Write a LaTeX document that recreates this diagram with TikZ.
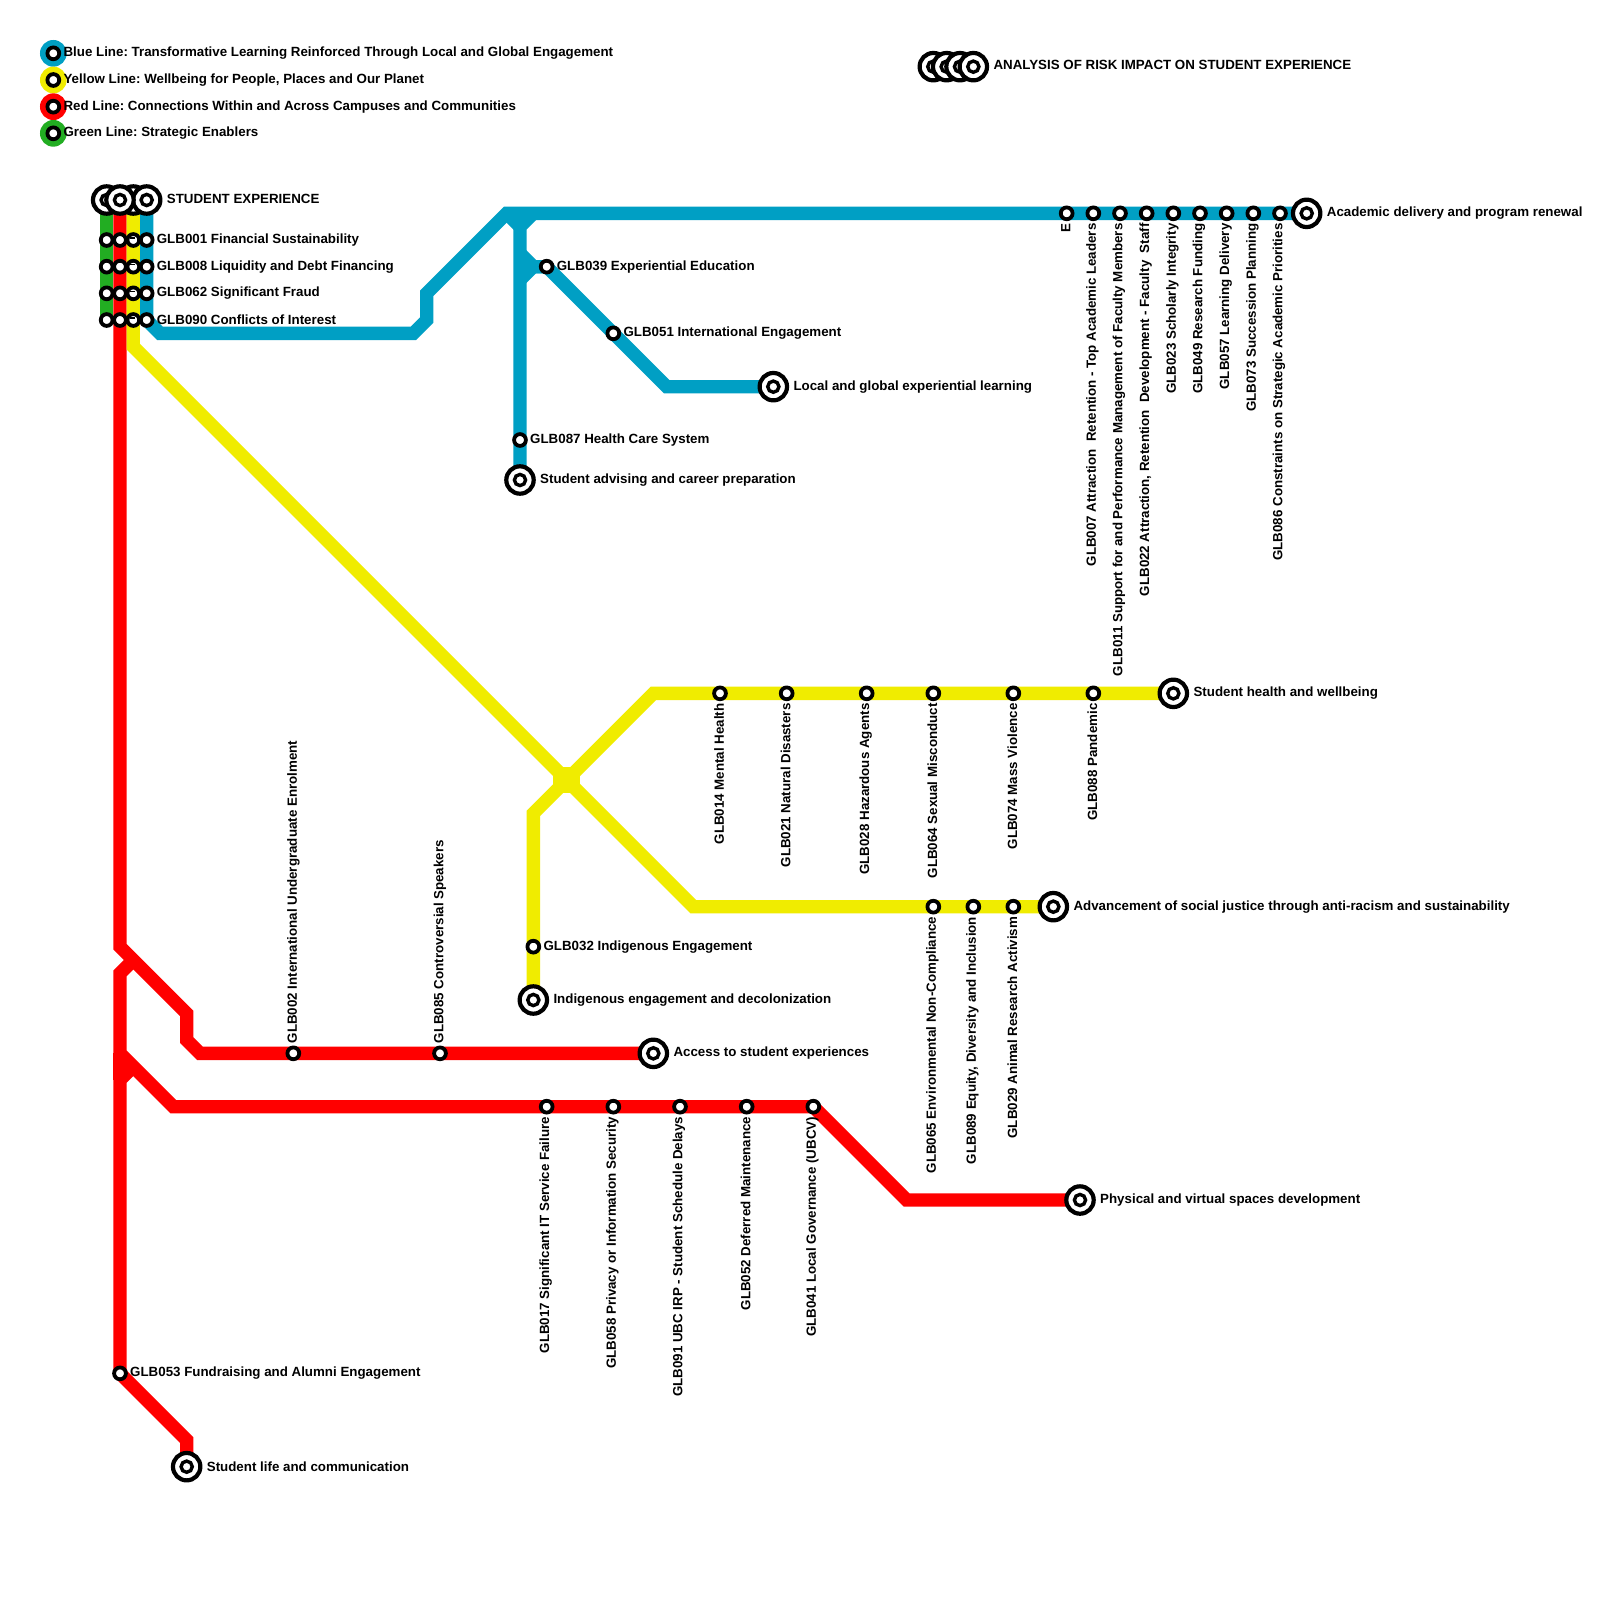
\documentclass[tikz,border=0pt]{standalone}
\usepackage{fontspec}
\setmainfont{Liberation Sans}
\usetikzlibrary{backgrounds}
\definecolor{lblue}{RGB}{0,159,196}
\definecolor{lyellow}{RGB}{240,236,0}
\definecolor{lred}{RGB}{255,0,0}
\definecolor{lgreen}{RGB}{34,173,34}
\tikzset{
  metro/.style={line width=13.33pt,line join=miter,miter limit=10},
  bl/.style={metro,draw=lblue},
  yl/.style={metro,draw=lyellow},
  rl/.style={metro,draw=lred},
  gl/.style={metro,draw=lgreen},
  stn/.style={circle,draw=black,fill=white,line width=3.8pt,minimum size=11.8pt,inner sep=0pt},
  stnmark/.style={stn,path picture={\draw[black,line width=1.5pt] ([xshift=-3pt,yshift=2pt]path picture bounding box.center) -- ([xshift=2pt,yshift=2pt]path picture bounding box.center);}},
  term/.style={circle,draw=black,fill=white,line width=4.2pt,minimum size=27.4pt,inner sep=0pt,
    path picture={\draw[black,line width=3.4pt] (path picture bounding box.center) circle (5.6pt);}},
  lgd/.style={circle,minimum size=26.7pt,inner sep=0pt},
  txt/.style={font=\fontsize{13.33}{16}\selectfont\bfseries\frenchspacing,inner sep=0pt,text=black},
  rt/.style={txt,anchor=west},
  dn/.style={txt,rotate=90,anchor=east},
  up/.style={txt,rotate=90,anchor=west},
}
\begin{document}
\begin{tikzpicture}[x=13.3333pt,y=-13.3333pt]
\useasboundingbox (0,0) rectangle (120,120);
% legend
\node[lgd,fill=lblue] (lb) at (4,4) {}; \node[stn] (lbs) at (4,4) {};
\node[lgd,fill=lyellow] (ly) at (4,6) {}; \node[stn] (lys) at (4,6) {};
\node[lgd,fill=lred] (lr) at (4,8) {}; \node[stn] (lrs) at (4,8) {};
\node[lgd,fill=lgreen] (lg) at (4,10) {}; \node[stn] (lgs) at (4,10) {};
\node[rt] (ltb) at (4.75,4) {Blue Line: Transformative Learning Reinforced Through Local and Global Engagement};
\node[rt] (lty) at (4.75,6) {Yellow Line: Wellbeing for People, Places and Our Planet};
\node[rt] (ltr) at (4.75,8) {Red Line: Connections Within and Across Campuses and Communities};
\node[rt] (ltg) at (4.75,10) {Green Line: Strategic Enablers};
% analysis key
\node[term] (k1) at (70,5) {}; \node[term] (k2) at (71,5) {}; \node[term] (k3) at (72,5) {}; \node[term] (k4) at (73,5) {};
\node[rt] (kt) at (74.5,4.9) {ANALYSIS OF RISK IMPACT ON STUDENT EXPERIENCE};
% origin terminals
\node[term] (og) at (8,15) {}; \node[term] (oy) at (10,15) {}; \node[term] (ob) at (11,15) {}; \node[term] (or) at (9,15) {};
\node[rt] (ot) at (12.5,14.95) {STUDENT EXPERIENCE};
% four-line stations
\foreach \r/\yy in {a/18,c/20,e/22,f/24}{
  \node[stn] (g\r) at (8,\yy) {}; \node[stn] (r\r) at (9,\yy) {}; \node[stnmark] (y\r) at (10,\yy) {}; \node[stn] (b\r) at (11,\yy) {};
}
\node[rt] (t001) at (11.75,18) {GLB001 Financial Sustainability};
\node[rt] (t008) at (11.75,20) {GLB008 Liquidity and Debt Financing};
\node[rt] (t062) at (11.75,22) {GLB062 Significant Fraud};
\node[rt] (t090) at (11.75,24) {GLB090 Conflicts of Interest};
% blue stations
\node[stn] (b039) at (41,20) {}; \node[rt] (tb039) at (41.75,20) {GLB039 Experiential Education};
\node[stn] (b051) at (46,25) {}; \node[rt] (tb051) at (46.75,25) {GLB051 International Engagement};
\node[term] (tlocal) at (58,29) {}; \node[rt] (ttlocal) at (59.5,29) {Local and global experiential learning};
\node[stn] (b087) at (39,33) {}; \node[rt] (tb087) at (39.75,33) {GLB087 Health Care System};
\node[term] (tadv) at (39,36) {}; \node[rt] (ttadv) at (40.5,36) {Student advising and career preparation};
\node[stn] (bE) at (80,16) {}; \node[dn] (tE) at ([yshift=-10pt,xshift=-1pt]bE.center) {E};
\node[stn] (b007) at (82,16) {}; \node[dn] (t007) at ([yshift=-10pt,xshift=-1pt]b007.center) {GLB007 Attraction\ \ Retention - Top Academic Leaders};
\node[stn] (b011) at (84,16) {}; \node[dn] (t011) at ([yshift=-10pt,xshift=-1pt]b011.center) {GLB011 Support for and Performance Management of Faculty Members};
\node[stn] (b022) at (86,16) {}; \node[dn] (t022) at ([yshift=-10pt,xshift=-1pt]b022.center) {GLB022 Attraction, Retention\ \ Development - Faculty\ \ Staff};
\node[stn] (b023) at (88,16) {}; \node[dn] (t023) at ([yshift=-10pt,xshift=-1pt]b023.center) {GLB023 Scholarly Integrity};
\node[stn] (b049) at (90,16) {}; \node[dn] (t049) at ([yshift=-10pt,xshift=-1pt]b049.center) {GLB049 Research Funding};
\node[stn] (b057) at (92,16) {}; \node[dn] (t057) at ([yshift=-10pt,xshift=-1pt]b057.center) {GLB057 Learning Delivery};
\node[stn] (b073) at (94,16) {}; \node[dn] (t073) at ([yshift=-10pt,xshift=-1pt]b073.center) {GLB073 Succession Planning};
\node[stn] (b086) at (96,16) {}; \node[dn] (t086) at ([yshift=-10pt,xshift=-1pt]b086.center) {GLB086 Constraints on Strategic Academic Priorities};
\node[term] (tacad) at (98,16) {}; \node[rt] (ttacad) at (99.5,16) {Academic delivery and program renewal};
% yellow stations
\node[stn] (y014) at (54,52) {}; \node[dn] (t014) at ([yshift=-10pt,xshift=-1pt]y014.center) {GLB014 Mental Health};
\node[stn] (y021) at (59,52) {}; \node[dn] (t021) at ([yshift=-10pt,xshift=-1pt]y021.center) {GLB021 Natural Disasters};
\node[stn] (y028) at (65,52) {}; \node[dn] (t028) at ([yshift=-10pt,xshift=-1pt]y028.center) {GLB028 Hazardous Agents};
\node[stn] (y064) at (70,52) {}; \node[dn] (t064) at ([yshift=-10pt,xshift=-1pt]y064.center) {GLB064 Sexual Misconduct};
\node[stn] (y074) at (76,52) {}; \node[dn] (t074) at ([yshift=-10pt,xshift=-1pt]y074.center) {GLB074 Mass Violence};
\node[stn] (y088) at (82,52) {}; \node[dn] (t088) at ([yshift=-10pt,xshift=-1pt]y088.center) {GLB088 Pandemic};
\node[term] (thealth) at (88,52) {}; \node[rt] (tthealth) at (89.5,52) {Student health and wellbeing};
\node[stn] (y065) at (70,68) {}; \node[dn] (t065) at ([yshift=-10pt,xshift=-1pt]y065.center) {GLB065 Environmental Non-Compliance};
\node[stn] (y089) at (73,68) {}; \node[dn] (t089) at ([yshift=-10pt,xshift=-1pt]y089.center) {GLB089 Equity, Diversity and Inclusion};
\node[stn] (y029) at (76,68) {}; \node[dn] (t029) at ([yshift=-10pt,xshift=-1pt]y029.center) {GLB029 Animal Research Activism};
\node[term] (tsocial) at (79,68) {}; \node[rt] (ttsocial) at (80.5,68) {Advancement of social justice through anti-racism and sustainability};
\node[stn] (y032) at (40,71) {}; \node[rt] (ty032) at (40.75,71) {GLB032 Indigenous Engagement};
\node[term] (tind) at (40,75) {}; \node[rt] (ttind) at (41.5,75) {Indigenous engagement and decolonization};
% red stations
\node[stn] (r002) at (22,79) {}; \node[up] (t002) at ([yshift=10pt]r002.center) {GLB002 International Undergraduate Enrolment};
\node[stn] (r085) at (33,79) {}; \node[up] (t085) at ([yshift=10pt]r085.center) {GLB085 Controversial Speakers};
\node[term] (taccess) at (49,79) {}; \node[rt] (ttaccess) at (50.5,79) {Access to student experiences};
\node[stn] (r017) at (41,83) {}; \node[dn] (t017) at ([yshift=-10pt,xshift=-1pt]r017.center) {GLB017 Significant IT Service Failure};
\node[stn] (r058) at (46,83) {}; \node[dn] (t058) at ([yshift=-10pt,xshift=-1pt]r058.center) {GLB058 Privacy or Information Security};
\node[stn] (r091) at (51,83) {}; \node[dn] (t091) at ([yshift=-10pt,xshift=-1pt]r091.center) {GLB091 UBC IRP - Student Schedule Delays};
\node[stn] (r052) at (56,83) {}; \node[dn] (t052) at ([yshift=-10pt,xshift=-1pt]r052.center) {GLB052 Deferred Maintenance};
\node[stn] (r041) at (61,83) {}; \node[dn] (t041) at ([yshift=-10pt,xshift=-1pt]r041.center) {GLB041 Local Governance (UBCV)};
\node[term] (tphys) at (81,90) {}; \node[rt] (ttphys) at (82.5,90) {Physical and virtual spaces development};
\node[stn] (r053) at (9,103) {}; \node[rt] (tr053) at (9.75,103) {GLB053 Fundraising and Alumni Engagement};
\node[term] (tlife) at (14,110) {}; \node[rt] (ttlife) at (15.5,110) {Student life and communication};
% bends
\coordinate (bn1) at (12,25); \coordinate (bn2) at (31,25); \coordinate (bn3) at (32,24); \coordinate (bn4) at (32,22);
\coordinate (bn5) at (38,16); \coordinate (bn6) at (40,16); \coordinate (bn7) at (39,17); \coordinate (bn8) at (39,19);
\coordinate (bn9) at (50,29); \coordinate (bn10) at (40,20); \coordinate (bn11) at (39,21);
\coordinate (yn1) at (10,26); \coordinate (yn2) at (52,68); \coordinate (yn3) at (49,52); \coordinate (yn4) at (40,61);
\coordinate (xn1) at (41.5,57.5); \coordinate (xn2) at (43.5,59.5);
\coordinate (rn1) at (9,71); \coordinate (rn2) at (14,76); \coordinate (rn3) at (14,78); \coordinate (rn4) at (15,79);
\coordinate (rn5) at (10,72); \coordinate (rn6) at (9,73); \coordinate (rn7) at (9,79); \coordinate (rn8) at (13,83);
\coordinate (rn9) at (68,90); \coordinate (rn10) at (10,80); \coordinate (rn11) at (9,81); \coordinate (rn12) at (14,108);
\begin{scope}[on background layer]
\fill[white] (0,0) rectangle (120,120);
\draw[gl] (og.center) -- (gf.center);
\draw[rl] (or.center) -- (rn1) -- (rn2) -- (rn3) -- (rn4) -- (taccess.center);
\draw[rl] (rn5) -- (rn6) -- (rn7) -- (rn8) -- (r041.center) -- (rn9) -- (tphys.center);
\draw[rl] (rn10) -- (rn11) -- (r053.center) -- (rn12) -- (tlife.center);
\draw[rl] (rn7) -- (rn11);
\draw[bl] (ob.center) -- (bf.center) -- (bn1) -- (bn2) -- (bn3) -- (bn4) -- (bn5) -- (tacad.center);
\draw[bl] (bn6) -- (bn7) -- (tadv.center);
\draw[bl] (bn5) -- (bn7);
\draw[bl] (bn8) -- (bn10) -- (b039.center) -- (bn9) -- (tlocal.center);
\draw[bl] (b039.center) -- (bn10) -- (bn11);
\draw[yl] (oy.center) -- (yf.center) -- (yn1) -- (yn2) -- (tsocial.center);
\draw[yl] (thealth.center) -- (yn3) -- (yn4) -- (tind.center);
\fill[lyellow] (xn1) rectangle (xn2);
\end{scope}
\end{tikzpicture}
\end{document}
